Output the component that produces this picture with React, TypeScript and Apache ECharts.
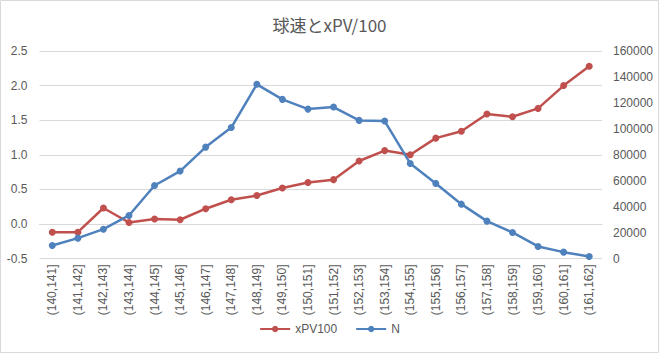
import React, { useEffect, useRef } from "react";
import * as echarts from "echarts";

const categories = [
  "(140,141]", "(141,142]", "(142,143]", "(143,144]", "(144,145]", "(145,146]",
  "(146,147]", "(147,148]", "(148,149]", "(149,150]", "(150,151]", "(151,152]",
  "(152,153]", "(153,154]", "(154,155]", "(155,156]", "(156,157]", "(157,158]",
  "(158,159]", "(159,160]", "(160,161]", "(161,162]",
];

const xpv100 = [
  -0.12, -0.12, 0.23, 0.02, 0.07, 0.06, 0.22, 0.35, 0.41, 0.52, 0.6, 0.64,
  0.91, 1.06, 1.0, 1.24, 1.34, 1.59, 1.55, 1.67, 2.0, 2.28,
];

const nValues = [
  10000, 15700, 22600, 33200, 56300, 67400, 85900, 101000, 134300, 122700, 115200, 116800,
  106500, 106000, 73300, 57900, 41900, 28800, 20100, 9300, 4900, 1500,
];

const leftTicks = { min: -0.5, max: 2.5, interval: 0.5 };
const rightTicks = { min: 0, max: 160000, interval: 20000 };

const RED = "#C0504D";
const BLUE = "#4F81BD";
const TEXT = "#595959";
const FONT = "'Liberation Sans', 'Noto Sans CJK JP', sans-serif";

export default function App() {
  const ref = useRef<HTMLDivElement>(null);
  useEffect(() => {
    if (!ref.current) return;
    const chart = echarts.init(ref.current, undefined, { renderer: "svg" });
    chart.setOption({
      animation: false,
      backgroundColor: "#ffffff",
      textStyle: { fontFamily: FONT },
      title: {
        text: "球速とxPV/100",
        left: "center",
        top: 11,
        textStyle: { color: TEXT, fontSize: 17, fontWeight: "normal", fontFamily: "'Noto Sans CJK JP', sans-serif" },
      },
      graphic: [
        {
          type: "rect",
          shape: { x: 0.5, y: 0.5, width: 658, height: 352 },
          style: { fill: "none", stroke: "#d9d9d9", lineWidth: 1 },
          silent: true,
        },
      ],
      legend: {
        bottom: 13,
        left: "center",
        itemWidth: 30,
        itemHeight: 8,
        itemGap: 18,
        textStyle: { color: TEXT, fontSize: 12, fontFamily: FONT },
        data: ["xPV100", "N"],
      },
      grid: { left: 39.5, right: 57, top: 51, bottom: 94.5, containLabel: false },
      xAxis: {
        type: "category",
        data: categories,
        boundaryGap: true,
        axisLine: { show: true, lineStyle: { color: "#d9d9d9" } },
        axisTick: { show: false },
        axisLabel: { rotate: 90, color: TEXT, fontSize: 12, margin: 6, interval: 0, fontFamily: FONT },
      },
      yAxis: [
        {
          type: "value",
          ...leftTicks,
          axisLine: { show: false },
          axisTick: { show: false },
          splitLine: { lineStyle: { color: "#d9d9d9" } },
          axisLabel: { color: TEXT, fontSize: 12, margin: 12, formatter: (v: number) => v.toFixed(1), fontFamily: FONT },
        },
        {
          type: "value",
          ...rightTicks,
          position: "right",
          axisLine: { show: false },
          axisTick: { show: false },
          splitLine: { show: false },
          axisLabel: { color: TEXT, fontSize: 12, margin: 11, formatter: (v: number) => String(v), fontFamily: FONT },
        },
      ],
      series: [
        {
          name: "xPV100",
          type: "line",
          yAxisIndex: 0,
          data: xpv100,
          symbol: "circle",
          symbolSize: 7,
          color: RED,
          lineStyle: { width: 2.5, color: RED },
          itemStyle: { color: RED },
        },
        {
          name: "N",
          type: "line",
          yAxisIndex: 1,
          data: nValues,
          symbol: "circle",
          symbolSize: 7,
          color: BLUE,
          lineStyle: { width: 2.5, color: BLUE },
          itemStyle: { color: BLUE },
        },
      ],
    });
    return () => chart.dispose();
  }, []);
  return (
    <div
      ref={ref}
      style={{ position: "fixed", left: 0, top: 0, width: 659, height: 353 }}
    />
  );
}
